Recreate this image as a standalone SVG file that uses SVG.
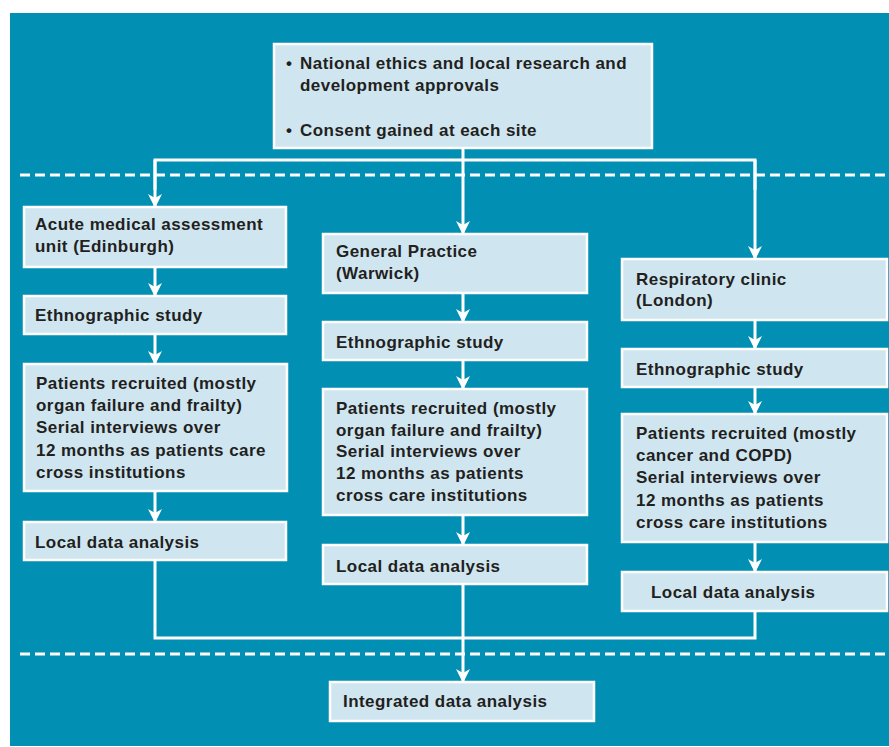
<svg xmlns="http://www.w3.org/2000/svg" width="889" height="747" viewBox="0 0 889 747">
<style>
.box{fill:#cfe6f0;stroke:#ffffff;stroke-width:2.5}
.t{font-family:"Liberation Sans",Arial,sans-serif;font-weight:bold;font-size:17px;letter-spacing:0.45px;fill:#231f20}
.ln{fill:none;stroke:#ffffff;stroke-width:3}
.dash{fill:none;stroke:#ffffff;stroke-width:3;stroke-dasharray:10 5}
</style>
<defs>
<marker id="ah" markerWidth="14" markerHeight="14" refX="12" refY="7" orient="auto" markerUnits="userSpaceOnUse">
<path d="M0,0 L14,7 L0,14 L4,7 Z" fill="#ffffff"/>
</marker>
</defs>
<rect x="0" y="0" width="889" height="747" fill="#ffffff"/>
<rect x="10" y="13" width="879" height="733" fill="#018fb3"/>
<g id="dividers">
<line class="dash" x1="20" y1="175" x2="889" y2="175"/>
<line class="dash" x1="20" y1="654" x2="889" y2="654"/>
</g>
<g id="connectors">
<polyline class="ln" points="463,148 463,160"/>
<polyline class="ln" points="155,190 155,160 755,160 755,190"/>
<path class="ln" d="M155,160 V206" marker-end="url(#ah)"/>
<path class="ln" d="M463,160 V233" marker-end="url(#ah)"/>
<path class="ln" d="M755,160 V258" marker-end="url(#ah)"/>
<path class="ln" d="M155,267 V295" marker-end="url(#ah)"/>
<path class="ln" d="M155,334 V363" marker-end="url(#ah)"/>
<path class="ln" d="M155,491 V521" marker-end="url(#ah)"/>
<path class="ln" d="M463,293 V321" marker-end="url(#ah)"/>
<path class="ln" d="M463,360 V388" marker-end="url(#ah)"/>
<path class="ln" d="M463,515 V544" marker-end="url(#ah)"/>
<path class="ln" d="M755,320 V348" marker-end="url(#ah)"/>
<path class="ln" d="M755,387 V413" marker-end="url(#ah)"/>
<path class="ln" d="M755,542 V571" marker-end="url(#ah)"/>
<polyline class="ln" points="155,560 155,638 755,638 755,611"/>
<path class="ln" d="M463,584 V681" marker-end="url(#ah)"/>
</g>
<g id="approvals">
<rect class="box" x="274" y="44" width="378" height="104"/>
<text class="t" x="286" y="69">•</text>
<text class="t" x="300" y="69">National ethics and local research and</text>
<text class="t" x="300" y="91">development approvals</text>
<text class="t" x="286" y="136">•</text>
<text class="t" x="300" y="136">Consent gained at each site</text>
</g>
<g id="edinburgh">
<rect class="box" x="24" y="207" width="262" height="60"/>
<text class="t" x="35" y="230">Acute medical assessment</text>
<text class="t" x="35" y="252">unit (Edinburgh)</text>
</g>
<g id="eth1">
<rect class="box" x="24" y="296" width="262" height="38"/>
<text class="t" x="35" y="321">Ethnographic study</text>
</g>
<g id="pat1">
<rect class="box" x="24" y="364" width="263" height="127"/>
<text class="t" x="36" y="389">Patients recruited (mostly</text>
<text class="t" x="36" y="411">organ failure and frailty)</text>
<text class="t" x="36" y="433">Serial interviews over</text>
<text class="t" x="36" y="456">12 months as patients care</text>
<text class="t" x="36" y="478">cross institutions</text>
</g>
<g id="local1">
<rect class="box" x="24" y="522" width="262" height="38"/>
<text class="t" x="35" y="548">Local data analysis</text>
</g>
<g id="warwick">
<rect class="box" x="323" y="234" width="264" height="59"/>
<text class="t" x="336" y="257">General Practice</text>
<text class="t" x="336" y="279">(Warwick)</text>
</g>
<g id="eth2">
<rect class="box" x="323" y="322" width="264" height="38"/>
<text class="t" x="336" y="348">Ethnographic study</text>
</g>
<g id="pat2">
<rect class="box" x="323" y="389" width="264" height="126"/>
<text class="t" x="336" y="414">Patients recruited (mostly</text>
<text class="t" x="336" y="436">organ failure and frailty)</text>
<text class="t" x="336" y="457">Serial interviews over</text>
<text class="t" x="336" y="479">12 months as patients</text>
<text class="t" x="336" y="501">cross care institutions</text>
</g>
<g id="local2">
<rect class="box" x="323" y="545" width="264" height="39"/>
<text class="t" x="336" y="572">Local data analysis</text>
</g>
<g id="london">
<rect class="box" x="622" y="259" width="265" height="61"/>
<text class="t" x="636" y="285">Respiratory clinic</text>
<text class="t" x="636" y="306">(London)</text>
</g>
<g id="eth3">
<rect class="box" x="622" y="349" width="265" height="38"/>
<text class="t" x="636" y="375">Ethnographic study</text>
</g>
<g id="pat3">
<rect class="box" x="622" y="414" width="265" height="128"/>
<text class="t" x="636" y="439">Patients recruited (mostly</text>
<text class="t" x="636" y="461">cancer and COPD)</text>
<text class="t" x="636" y="483">Serial interviews over</text>
<text class="t" x="636" y="506">12 months as patients</text>
<text class="t" x="636" y="528">cross care institutions</text>
</g>
<g id="local3">
<rect class="box" x="622" y="572" width="265" height="39"/>
<text class="t" x="651" y="598">Local data analysis</text>
</g>
<g id="integrated">
<rect class="box" x="330" y="682" width="264" height="39"/>
<text class="t" x="343" y="707">Integrated data analysis</text>
</g>
</svg>
